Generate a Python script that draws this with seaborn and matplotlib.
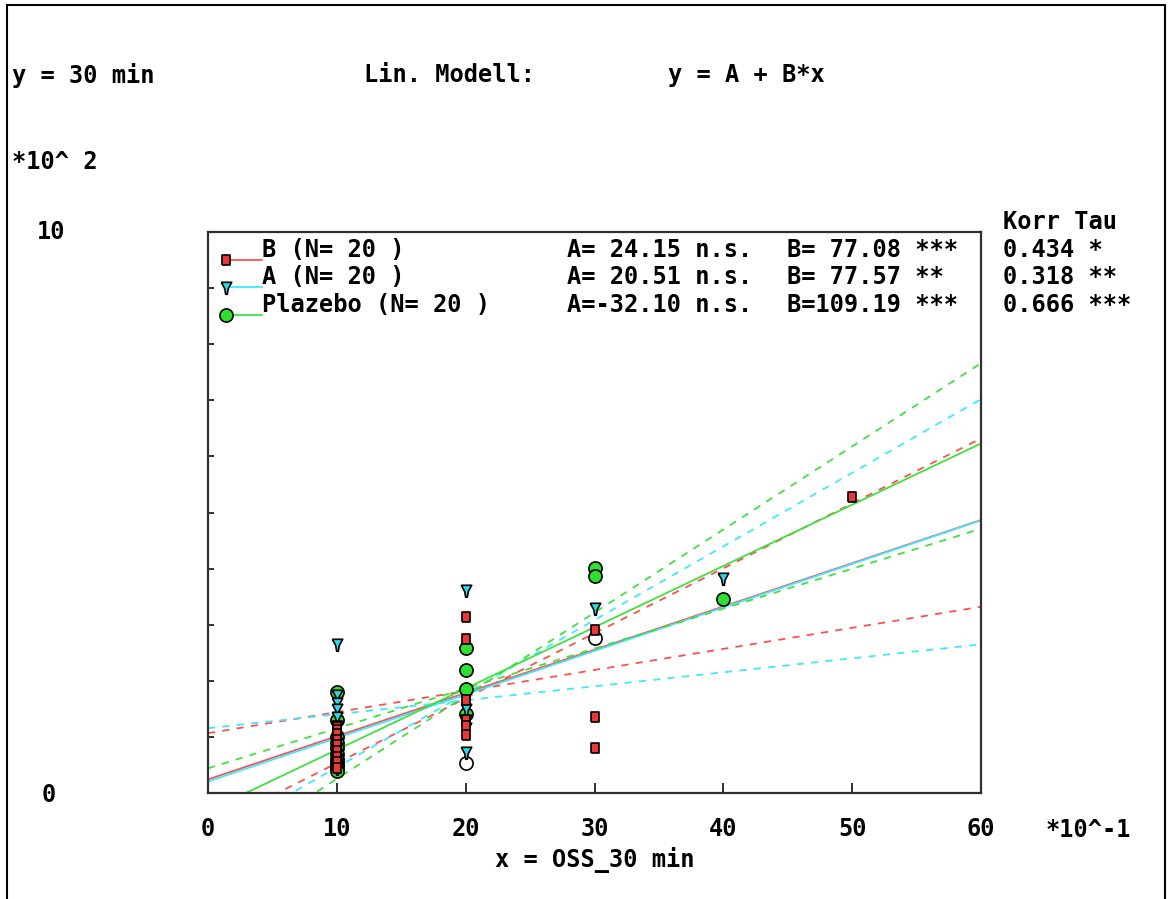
import numpy as np
import pandas as pd
import matplotlib
matplotlib.use("Agg")
import matplotlib.pyplot as plt
import seaborn as sns
from matplotlib.lines import Line2D

# ---------------- data (display units: x *10^-1, y *10^2) ----------------
group_names = ["B", "A", "Plazebo"]
group_n = [20, 20, 20]
coef_A = [24.15, 20.51, -32.10]
coef_B = [77.08, 77.57, 109.19]
coef_A_sig = ["n.s.", "n.s.", "n.s."]
coef_B_sig = ["***", "**", "***"]
korr_tau = ["0.434 *", "0.318 **", "0.666 ***"]

b_x = [10, 10, 10, 10, 10, 10, 10, 10, 10, 10, 20, 20, 20, 20, 20, 20, 30, 30, 30, 50]
b_y = [1.20, 1.18, 1.12, 1.05, 0.95, 0.85, 0.75, 0.65, 0.55, 0.45,
       3.14, 2.75, 1.65, 1.30, 1.20, 1.03, 2.90, 1.35, 0.80, 5.27]

a_x = [10, 10, 10, 10, 10, 10, 10, 10, 10, 10, 10, 10, 10, 20, 20, 20, 20, 20, 30, 40]
a_y = [2.65, 1.75, 1.60, 1.50, 1.35, 1.20, 1.00, 0.90, 0.80, 0.70, 0.60, 0.50, 0.45,
       3.61, 1.49, 1.30, 1.15, 0.73, 3.29, 3.84]

p_x = [10, 10, 10, 10, 10, 10, 10, 10, 10, 10, 10, 20, 20, 20, 20, 30, 30, 40]
p_y = [1.80, 1.30, 1.00, 0.90, 0.80, 0.70, 0.60, 0.55, 0.50, 0.45, 0.40,
       2.58, 2.20, 1.85, 1.40, 4.01, 3.87, 3.46]
p_open_x = [20, 30]
p_open_y = [0.53, 2.77]

# confidence lines (value at x=0 and x=60, display units)
band1_left = [1.066, 1.155, 0.44]
band1_right = [3.32, 2.65, 4.71]
band2_left = [-0.625, -0.853, -1.23]
band2_right = [6.32, 7.02, 7.66]

x_range = [0, 60]

line_colors = ["#ff5050", "#40e8ff", "#40e040"]
fill_colors = ["#e83838", "#30d8e8", "#30e030"]
rect_marker = [(-0.7, -1.0), (0.7, -1.0), (0.7, 1.0), (-0.7, 1.0), (-0.7, -1.0)]
funnel_marker = [(-1.0, 1.0), (1.0, 1.0), (0.35, -0.2), (0.15, -1.3),
                 (-0.15, -1.3), (-0.35, -0.2), (-1.0, 1.0)]
markers = [rect_marker, funnel_marker, "o"]
msizes = [62, 95, 90]

# ---------------- figure ----------------
W, H = 1169, 899
sns.set_style("white")
plt.rcParams['font.family'] = ['DejaVu Sans Mono', 'DejaVu Sans']
plt.rcParams['font.weight'] = 'bold'
FS = 17

fig = plt.figure(figsize=(W / 100, H / 100), dpi=100)
L, R, T, B = 208, 981, 232, 793
ax = fig.add_axes([L / W, 1 - B / H, (R - L) / W, (B - T) / H])

def fx(px):
    return px / W

def fy(py):
    return 1 - py / H

# regression + confidence lines
for i in range(3):
    xr = np.array(x_range, dtype=float)
    yr = (coef_A[i] + coef_B[i] * xr / 10.0) / 100.0
    sns.lineplot(x=xr, y=yr, color=line_colors[i], lw=1.3, ax=ax, zorder=2)
    sns.lineplot(x=xr, y=[band1_left[i], band1_right[i]], color=line_colors[i],
                 lw=1.3, ax=ax, zorder=2, linestyle=(0, (4, 4)))
    sns.lineplot(x=xr, y=[band2_left[i], band2_right[i]], color=line_colors[i],
                 lw=1.3, ax=ax, zorder=2, linestyle=(0, (4, 4)))

# points
data_sets = [(b_x, b_y), (a_x, a_y), (p_x, p_y)]
for i in [2, 1, 0]:
    xs, ys = data_sets[i]
    sns.scatterplot(x=xs, y=ys, marker=markers[i], s=msizes[i], color=fill_colors[i],
                    edgecolor="black", linewidth=1.2, ax=ax, zorder=3 + (2 - i))
sns.scatterplot(x=p_open_x, y=p_open_y, marker="o", s=msizes[2], facecolor="white",
                edgecolor="black", linewidth=1.2, ax=ax, zorder=3)

ax.set_xlim(0, 60)
ax.set_ylim(0, 10)
ax.set_xlabel("")
ax.set_ylabel("")
ax.set_xticks(range(0, 61, 10))
ax.set_xticks(range(0, 61, 1), minor=True)
ax.set_xticklabels([str(v) for v in range(0, 61, 10)], fontsize=FS, fontweight='bold',
                   color='black')
ax.set_yticks(range(0, 11, 1))
ax.set_yticklabels([])
ax.tick_params(axis='x', which='major', direction='in', length=7, width=1.3,
               pad=17, color='#202020', labelcolor='black')
ax.tick_params(axis='x', which='minor', direction='in', length=4, width=1.1,
               color='#202020')
ax.tick_params(axis='y', which='major', direction='in', length=4, width=1.3,
               color='#202020', left=True)
ax.tick_params(axis='x', bottom=True)
for sp in ax.spines.values():
    sp.set_color('#303030')
    sp.set_linewidth(1.6)
ax.grid(False)
if ax.get_legend() is not None:
    ax.get_legend().remove()

# texts
txt = dict(fontsize=FS, fontweight='bold', va='center', color='black')
fig.text(fx(12), fy(75), "y = 30 min", ha='left', **txt)
fig.text(fx(364), fy(75), "Lin. Modell:", ha='left', **txt)
fig.text(fx(668), fy(75), "y = A + B*x", ha='left', **txt)
fig.text(fx(12), fy(162), "*10^ 2", ha='left', **txt)
fig.text(fx(37), fy(232), "10", ha='left', **txt)
fig.text(fx(42), fy(795), "0", ha='left', **txt)
fig.text(fx(1003), fy(222), "Korr Tau", ha='left', **txt)
fig.text(fx(1046), fy(830), "*10^-1", ha='left', **txt)
fig.text(fx(595), fy(860), "x = OSS_30 min", ha='center', **txt)

row_text = [250, 277, 305]
row_mark = [260, 287, 315]
for i in range(3):
    fig.text(fx(262), fy(row_text[i]), f"{group_names[i]} (N= {group_n[i]} )", ha='left', **txt)
    fig.text(fx(567), fy(row_text[i]), f"A={coef_A[i]:6.2f} {coef_A_sig[i]}", ha='left', **txt)
    fig.text(fx(787), fy(row_text[i]), f"B={coef_B[i]:6.2f} {coef_B_sig[i]}", ha='left', **txt)
    fig.text(fx(1003), fy(row_text[i]), korr_tau[i], ha='left', **txt)
    fig.add_artist(Line2D([fx(230), fx(262)], [fy(row_mark[i]), fy(row_mark[i])],
                          color=line_colors[i], lw=1.3, transform=fig.transFigure))
    fig.add_artist(Line2D([fx(226)], [fy(row_mark[i])], marker=markers[i],
                          markersize=np.sqrt(msizes[i]), markerfacecolor=fill_colors[i],
                          markeredgecolor='black', markeredgewidth=1.2, linestyle='none',
                          transform=fig.transFigure))

# outer frame
fig.add_artist(Line2D([fx(7), fx(7)], [0, fy(5)], color='black', lw=1.5, transform=fig.transFigure))
fig.add_artist(Line2D([fx(7), fx(1165)], [fy(5), fy(5)], color='black', lw=1.5, transform=fig.transFigure))
fig.add_artist(Line2D([fx(1165), fx(1165)], [0, fy(5)], color='black', lw=1.5, transform=fig.transFigure))

fig.savefig("out.png", dpi=100)
